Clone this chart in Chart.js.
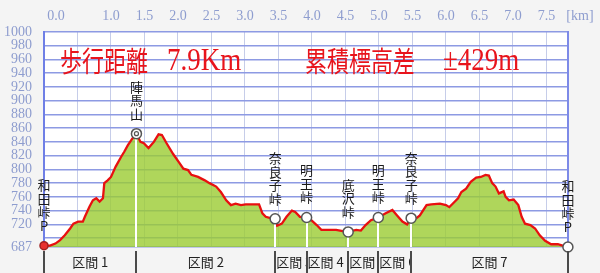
<!DOCTYPE html>
<html>
<head>
<meta charset="utf-8">
<script src="https://cdn.jsdelivr.net/npm/chart.js@4/dist/chart.umd.min.js"></script>
<style>
html, body { margin: 0; padding: 0; background: #f4f4f4; }
canvas { display: block; }
</style>
</head>
<body>
<canvas id="grafica" width="600" height="273"></canvas>
<script>
// 距離 [km] と 標高 [m]
const distKm = [0.00, 0.09, 0.17, 0.24, 0.31, 0.39, 0.44, 0.51, 0.58, 0.61, 0.68, 0.73, 0.78, 0.83, 0.88, 0.90, 0.95, 1.00,
  1.07, 1.15, 1.20, 1.25, 1.32, 1.38, 1.44, 1.49, 1.56, 1.64, 1.71, 1.76, 1.83, 1.93, 2.01, 2.08, 2.15, 2.20, 2.30, 2.40,
  2.47, 2.57, 2.64, 2.72, 2.79, 2.86, 2.94, 3.01, 3.21, 3.26, 3.31, 3.38, 3.45, 3.48, 3.55, 3.62, 3.70, 3.75, 3.82, 3.92,
  3.99, 4.07, 4.14, 4.21, 4.36, 4.46, 4.54, 4.66, 4.73, 4.80, 4.88, 4.99, 5.10, 5.20, 5.27, 5.35, 5.42, 5.48, 5.56, 5.61,
  5.71, 5.78, 5.91, 6.00, 6.05, 6.10, 6.18, 6.23, 6.30, 6.37, 6.45, 6.52, 6.59, 6.64, 6.69, 6.74, 6.79, 6.86, 6.89, 6.94,
  7.01, 7.08, 7.13, 7.18, 7.26, 7.33, 7.40, 7.48, 7.57, 7.67, 7.74, 7.82];
const elevM = [689, 689, 692, 697, 704, 714, 721, 724, 724, 731, 746, 755, 758, 753, 758, 780, 784, 789,
  804, 818, 826, 835, 845, 852, 840, 838, 831, 840, 851, 850, 838, 822, 811, 801, 799, 792, 789, 784,
  780, 775, 767, 755, 748, 750, 748, 749, 749, 736, 731, 729, 728, 718, 721, 731, 740, 738, 731, 730,
  726, 719, 712, 712, 712, 710, 709, 712, 711, 719, 726, 730, 736, 741, 733, 724, 720, 729, 729, 733,
  748, 749, 750, 748, 745, 750, 758, 767, 772, 782, 788, 789, 792, 791, 780, 775, 765, 768, 760, 755,
  756, 748, 731, 721, 719, 714, 704, 696, 691, 691, 689, 687];

// 地点
const pointNames = ['和田峠P', '陣馬山', '奈良子峠', '明王峠', '底沢峠', '明王峠', '奈良子峠', '和田峠P'];
const pointKm = [0, 1.38, 3.45, 3.92, 4.54, 4.99, 5.48, 7.82];
const pointElev = [689, 852, 728, 730, 709, 730, 729, 687];

const sectionLabels = ['区間 1', '区間 2', '区間 3', '区間 4', '区間 5', '区間 6', '区間 7'];

// 目盛り
const gridKm = [0.5, 1, 1.5, 2, 2.5, 3, 3.5, 4, 4.5, 5, 5.5, 6, 6.5, 7, 7.5];
const xTickKm = [0, 1, 1.5, 2, 2.5, 3, 3.5, 4, 4.5, 5, 5.5, 6, 6.5, 7, 7.5, 8];
const xTickLabels = ['0.0', '1.0', '1.5', '2.0', '2.5', '3.0', '3.5', '4.0', '4.5', '5.0', '5.5', '6.0', '6.5', '7.0', '7.5', '[km]'];
const yTicks = [1000, 980, 960, 940, 920, 900, 880, 860, 840, 820, 800, 780, 760, 740, 720, 700, 687];
const yTickLabels = ['1000', '980', '960', '940', '920', '900', '880', '860', '840', '820', '800', '780', '760', '740', '720', '', '687'];

// 見出し
const distLabel = '歩行距離';
const distValue = '7.9Km';
const climbLabel = '累積標高差';
const climbValue = '±429m';

const tickFont = { family: '"Liberation Serif"', size: 14 };
const tickColor = '#8e9dcf';
const jpFont = '"Noto Sans CJK JP"';

const decor = {
	id: 'decor',
	beforeDraw(chart) {
		const { ctx, chartArea: a } = chart;
		ctx.save();
		ctx.fillStyle = '#ffffff';
		ctx.fillRect(a.left, a.top, a.right - a.left, a.bottom - a.top);
		ctx.restore();
	},
	afterDatasetDraw(chart, args) {
		if (args.index !== 0) return;
		const { ctx, chartArea: a } = chart;
		const xs = chart.scales.x, ys = chart.scales.y;
		ctx.save();
		ctx.strokeStyle = '#ffffff';
		ctx.lineWidth = 2;
		for (let i = 1; i < pointKm.length - 1; i++) {
			const px = Math.round(xs.getPixelForValue(pointKm[i]));
			ctx.beginPath();
			ctx.moveTo(px, ys.getPixelForValue(pointElev[i]));
			ctx.lineTo(px, a.bottom);
			ctx.stroke();
		}
		ctx.restore();
	},
	afterDraw(chart) {
		const { ctx, chartArea: a } = chart;
		const xs = chart.scales.x, ys = chart.scales.y;
		ctx.save();

		// 地点名 (縦書き)
		ctx.font = '13px ' + jpFont;
		ctx.fillStyle = '#1a1a1a';
		ctx.textAlign = 'center';
		ctx.textBaseline = 'middle';
		pointNames.forEach((name, i) => {
			const px = xs.getPixelForValue(pointKm[i]);
			const py = ys.getPixelForValue(pointElev[i]);
			const chars = Array.from(name);
			chars.forEach((c, k) => {
				ctx.fillText(c, px, py - 20 - (chars.length - 1 - k) * 13.5);
			});
		});

		// 区間
		const top = a.bottom + 2, bottom = chart.height;
		ctx.textAlign = 'left';
		ctx.fillStyle = '#222222';
		sectionLabels.forEach((lab, i) => {
			const x0 = xs.getPixelForValue(pointKm[i]);
			const x1 = xs.getPixelForValue(pointKm[i + 1]);
			const w = ctx.measureText(lab).width;
			ctx.save();
			ctx.beginPath();
			ctx.rect(x0, top, x1 - x0, bottom - top);
			ctx.clip();
			const tx = (w + 6 < x1 - x0) ? (x0 + x1) / 2 - w / 2 : x0 + 1;
			ctx.fillText(lab, tx, (top + bottom) / 2 + 1);
			ctx.restore();
		});
		ctx.strokeStyle = '#4a4a4a';
		ctx.lineWidth = 2;
		pointKm.forEach(k => {
			const x = Math.round(xs.getPixelForValue(k));
			ctx.beginPath();
			ctx.moveTo(x, top + 2);
			ctx.lineTo(x, bottom);
			ctx.stroke();
		});

		// 見出し (縦長の赤文字)
		ctx.fillStyle = '#e8141c';
		ctx.textBaseline = 'middle';
		const drawStretched = (t, x, font, sx) => {
			ctx.save();
			ctx.font = font;
			ctx.translate(x, 61);
			ctx.scale(sx, 1.3);
			ctx.fillText(t, 0, 0);
			ctx.restore();
		};
		const jpTitle = '22px ' + jpFont;
		const numTitle = '25px "Liberation Serif"';
		drawStretched(distLabel, a.left + 16, jpTitle, 1);
		drawStretched(distValue, a.left + 123, numTitle, 1.08);
		drawStretched(climbLabel, a.left + 261, jpTitle, 1);
		drawStretched(climbValue, a.left + 399, numTitle, 1.08);
		ctx.restore();
	}
};

const graph = document.querySelector('#grafica');

const data = {
	datasets: [{
		label: '標高',
		data: distKm.map((k, i) => ({ x: k, y: elevM[i] })),
		borderColor: '#e81010',
		borderWidth: 2.3,
		backgroundColor: 'rgba(155, 204, 50, 0.8)',
		fill: 'start',
		pointRadius: 0,
		tension: 0,
		order: 2
	}, {
		type: 'scatter',
		label: '地点',
		data: pointKm.map((k, i) => ({ x: k, y: pointElev[i] })),
		pointRadius: c => c.dataIndex === 0 ? 4 : 5,
		pointBackgroundColor: c => c.dataIndex === 0 ? '#e83030' : '#ffffff',
		pointBorderColor: c => c.dataIndex === 0 ? '#a02020' : '#555555',
		pointBorderWidth: 1.5,
		showLine: false,
		clip: false,
		order: 1
	}, {
		type: 'scatter',
		label: '山頂',
		data: [{ x: pointKm[1], y: pointElev[1] }],
		pointRadius: 2,
		pointBackgroundColor: '#ffffff',
		pointBorderColor: '#555555',
		pointBorderWidth: 1.2,
		clip: false,
		order: 0
	}]
};

const config = {
	type: 'line',
	data: data,
	plugins: [decor],
	options: {
		responsive: false,
		animation: false,
		devicePixelRatio: 1,
		events: [],
		layout: { padding: { left: 0, right: 25, top: 0, bottom: 26 } },
		plugins: { legend: { display: false }, tooltip: { enabled: false } },
		scales: {
			x: {
				type: 'linear', position: 'bottom', min: 0, max: 7.82,
				afterBuildTicks: s => { s.ticks = gridKm.map(v => ({ value: v })); },
				afterFit: s => { s.height = 0; },
				ticks: { display: false },
				grid: { color: '#c6cde9', lineWidth: 1, drawTicks: false },
				border: { display: false }
			},
			xTop: {
				type: 'linear', axis: 'x', position: 'top', min: 0, max: 7.82,
				afterBuildTicks: s => { s.ticks = xTickKm.map((v, i) => ({ value: i === 0 ? v + 0.18 : v })); },
				afterFit: s => { s.height = 32; },
				ticks: { callback: (v, i) => xTickLabels[i], color: tickColor, font: tickFont, padding: 7, autoSkip: false, maxRotation: 0 },
				grid: { display: false, drawTicks: false },
				border: { display: false }
			},
			y: {
				type: 'linear', position: 'left', min: 687, max: 1000,
				afterBuildTicks: s => { s.ticks = yTicks.map(v => ({ value: v })); },
				afterFit: s => { s.width = 44; },
				ticks: { callback: (v, i) => yTickLabels[i], color: tickColor, font: tickFont, padding: 12, autoSkip: false },
				grid: { color: '#8d9ae3', lineWidth: 1.5, drawTicks: false },
				border: { color: '#6f7fe6', width: 2 }
			},
			yRight: {
				type: 'linear', axis: 'y', position: 'right', min: 687, max: 1000,
				afterFit: s => { s.width = 0; },
				ticks: { display: false },
				grid: { display: false, drawTicks: false },
				border: { color: '#7d8ae8', width: 2 }
			}
		}
	}
};
new Chart(graph, config);
</script>
</body>
</html>
